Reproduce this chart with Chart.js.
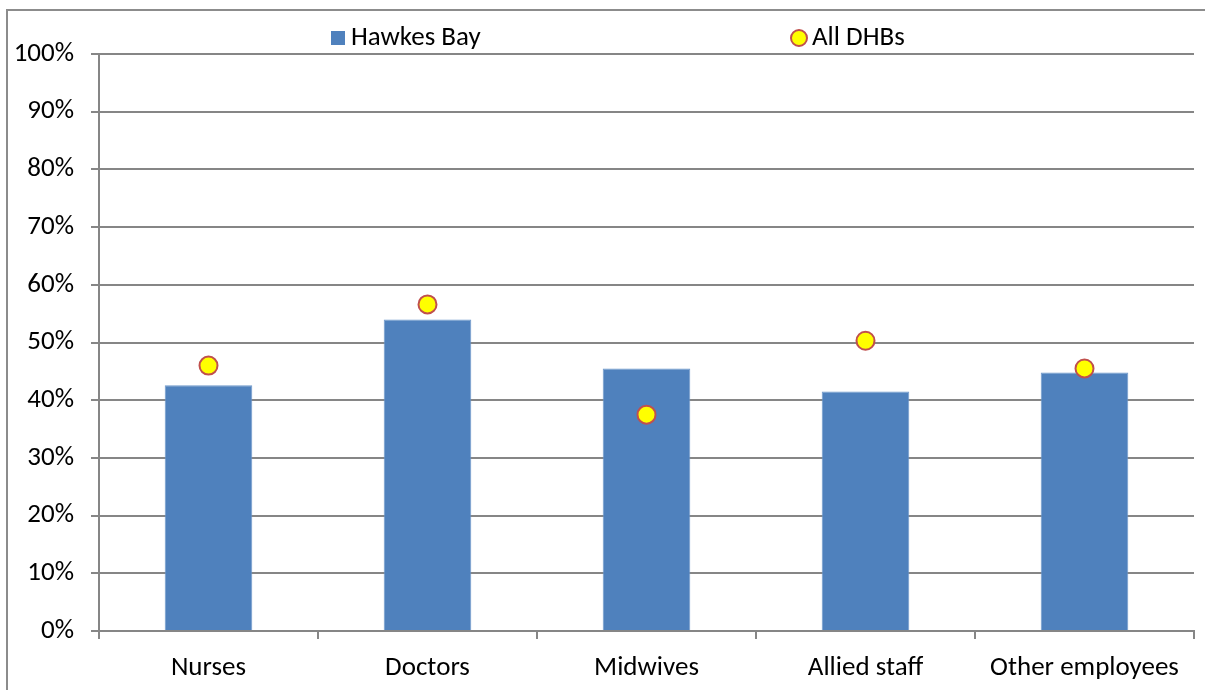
<!DOCTYPE html>
<html>
<head>
<meta charset="utf-8">
<script src="https://cdn.jsdelivr.net/npm/chart.js@4"></script>
<style>
  html, body { margin: 0; padding: 0; background: #fff; overflow: hidden; }
  #wrap { width: 1205px; height: 690px; }
</style>
</head>
<body>
<div id="wrap"><canvas id="chart" width="1205" height="690"></canvas></div>
<script>
const categories = ["Nurses", "Doctors", "Midwives", "Allied staff", "Other employees"];
const hawkesBay = [42.6, 54.0, 45.5, 41.5, 44.8];
const allDHBs = [46.0, 56.6, 37.5, 50.3, 45.5];
const seriesNames = ["Hawkes Bay", "All DHBs"];

const FONT = "Carlito, Calibri, Lato, sans-serif";
const GRID = "#868686";

// frame (top and left edges only show) and the legend above the plot
const framePlugin = {
  id: "frame",
  beforeDraw(chart) {
    const ctx = chart.ctx;
    ctx.save();
    ctx.strokeStyle = "#8c8c8c";
    ctx.lineWidth = 2;
    ctx.beginPath();
    ctx.moveTo(7, 700);
    ctx.lineTo(7, 10);
    ctx.lineTo(1205, 10);
    ctx.stroke();
    ctx.restore();
  },
  afterDraw(chart) {
    const ctx = chart.ctx;
    const bar = chart.data.datasets.find(d => d.type === "bar");
    const pts = chart.data.datasets.find(d => d.type === "line");
    ctx.save();
    ctx.font = "27px " + FONT;
    ctx.textBaseline = "middle";

    ctx.fillStyle = bar.backgroundColor;
    ctx.fillRect(331, 31, 14, 14);
    ctx.fillStyle = "#000";
    ctx.fillText(bar.label, 351, 38);

    ctx.beginPath();
    ctx.arc(799, 38, 8, 0, Math.PI * 2);
    ctx.fillStyle = pts.pointBackgroundColor;
    ctx.fill();
    ctx.lineWidth = 2;
    ctx.strokeStyle = pts.pointBorderColor;
    ctx.stroke();
    ctx.fillStyle = "#000";
    ctx.fillText(pts.label, 812, 38);
    ctx.restore();
  }
};

new Chart(document.getElementById("chart"), {
  data: {
    labels: categories,
    datasets: [
      {
        type: "line",
        label: seriesNames[1],
        data: allDHBs,
        showLine: false,
        pointRadius: 9,
        pointHoverRadius: 9,
        pointBorderWidth: 2,
        pointBackgroundColor: "#FFFF00",
        pointBorderColor: "#C0504D",
        order: 0
      },
      {
        type: "bar",
        label: seriesNames[0],
        data: hawkesBay,
        backgroundColor: "#4F81BD",
        borderColor: "#6E98CB",
        borderWidth: 1,
        barPercentage: 0.4,
        categoryPercentage: 1,
        order: 1
      }
    ]
  },
  options: {
    responsive: false,
    animation: false,
    devicePixelRatio: 1,
    layout: { padding: { top: 54, right: -4, left: 0, bottom: 0 } },
    plugins: {
      legend: { display: false },
      tooltip: { enabled: false }
    },
    scales: {
      x: {
        offset: true,
        grid: {
          offset: true,
          drawOnChartArea: false,
          drawTicks: true,
          tickLength: 8,
          color: GRID,
          lineWidth: 2
        },
        border: { color: GRID, width: 2 },
        ticks: {
          color: "#000",
          font: { family: FONT, size: 27 },
          padding: 13,
          maxRotation: 0
        },
        afterFit(scale) {
          scale.height = 59;
          scale.paddingRight = 0;
        }
      },
      y: {
        min: 0,
        max: 100,
        grid: {
          color: GRID,
          lineWidth: 2,
          tickLength: 8
        },
        border: { color: GRID, width: 2 },
        ticks: {
          stepSize: 10,
          color: "#000",
          font: { family: FONT, size: 27 },
          padding: 17,
          callback: v => v + "%"
        },
        afterFit(scale) { scale.width = 99; }
      }
    }
  },
  plugins: [framePlugin]
});
</script>
</body>
</html>
